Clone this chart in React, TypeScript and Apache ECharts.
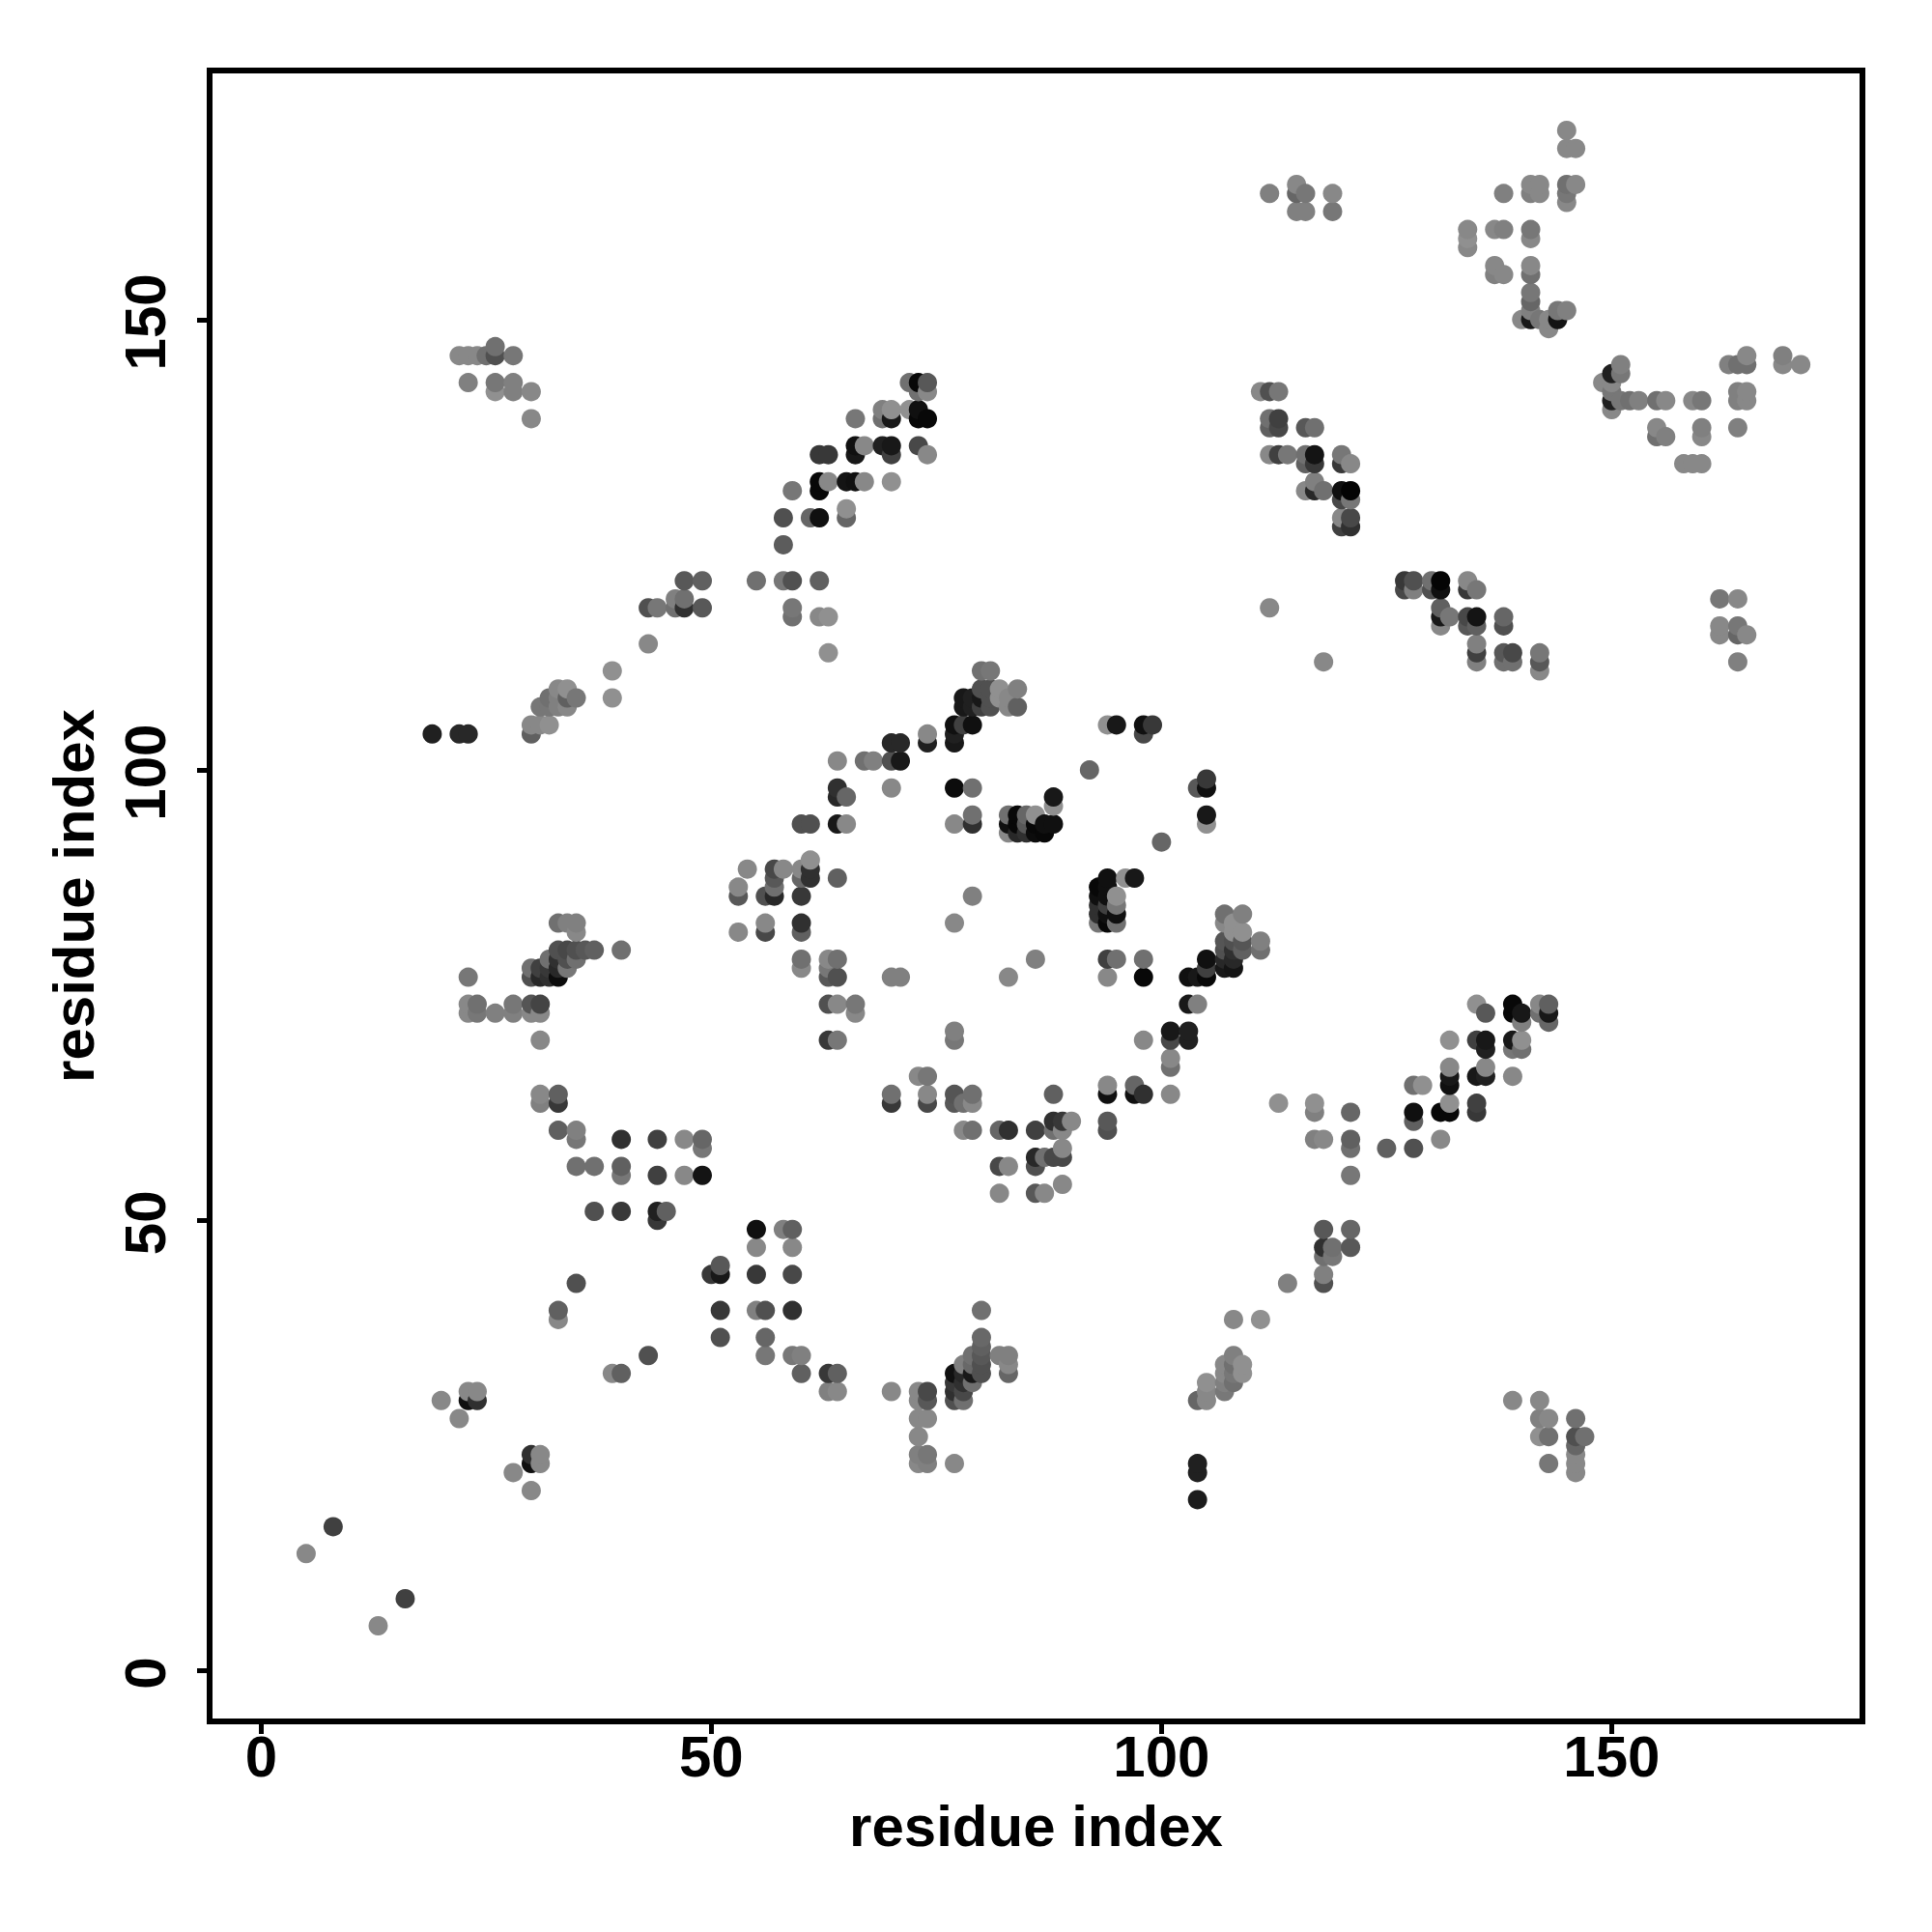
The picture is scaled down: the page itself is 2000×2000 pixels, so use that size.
import React, { useEffect, useRef } from "react";
import * as echarts from "echarts";

type P = [number, number, number]; // residue i, residue j, grey level of the contact

const tickValues = [0, 50, 100, 150];
const axisTitle = "residue index";

const lowerLeft: P[] = [
  [5,13,0x88],[8,16,0x40],[13,5,0x88],[16,8,0x40],[20,30,0x88],[22,28,0x88],[23,31,0x88],[24,31,0x88],[23,30,0x10],[24,30,0x30],
  [28,22,0x88],[30,24,0x30],[30,23,0x10],[31,24,0x88],[31,23,0x88],[30,20,0x88],[33,40,0x60],[33,39,0x88],[35,43,0x50],[43,35,0x50],
  [39,33,0x88],[40,33,0x60],[37,51,0x50],[40,51,0x38],[44,51,0x20],[44,50,0x38],[45,51,0x60],[55,49,0x10],[55,47,0x88],[50,44,0x38],
  [51,44,0x18],[51,45,0x58],[55,44,0x38],[51,40,0x38],[55,40,0x80],[56,40,0x50],[51,37,0x50],[56,37,0x66],[56,35,0x77],
  [58,49,0x80],[59,49,0x60],[59,47,0x88],[59,44,0x48],[59,40,0x30],[59,35,0x78],[60,35,0x80],[60,33,0x60],[63,33,0x38],[64,33,0x60],
  [63,31,0x80],[64,31,0x88],[70,31,0x88],[73,31,0x88],[74,31,0x48],[73,30,0x88],[74,30,0x58],[73,28,0x88],[74,28,0x88],[73,26,0x88],
  [73,24,0x80],[74,24,0x77],[73,23,0x88],[74,23,0x80],[77,23,0x88],
];

const lowerMiddle: P[] = [
  [80,40,0x70],[80,37,0x68],[80,36,0x60],[80,35,0x58],[80,34,0x50],[80,33,0x50],[79,35,0x70],[79,34,0x68],[78,34,0x80],[79,32,0x70],
  [77,33,0x10],[78,33,0x28],[77,32,0x38],[77,31,0x30],[77,30,0x50],[78,32,0x30],[78,31,0x48],[78,30,0x70],[79,33,0x18],
  [82,35,0x80],[83,35,0x80],[83,34,0x88],[83,33,0x66],[108,35,0x80],[107,34,0x88],[107,33,0x88],[109,34,0x90],[109,33,0x90],
  [108,34,0x70],[108,32,0x70],[107,31,0x78],[108,33,0x77],[107,32,0x80],[105,32,0x90],[105,31,0x88],[105,30,0x88],[104,30,0x66],
  [104,23,0x20],[104,22,0x20],[104,19,0x1c],[108,39,0x88],[111,39,0x90],
];

const lowerRight: P[] = [
  [101,71,0x18],[103,71,0x20],[101,70,0x48],[103,70,0x20],[101,68,0x88],[101,67,0x70],[101,64,0x88],[103,77,0x10],[104,77,0x18],[105,77,0x08],
  [105,78,0x40],[107,78,0x18],[108,78,0x14],[103,74,0x18],[104,74,0x80],[113,63,0x90],[117,63,0x90],[117,62,0x80],[117,59,0x80],[118,59,0x88],
  [121,62,0x66],[121,59,0x60],[121,58,0x70],[121,55,0x77],[125,58,0x60],[128,58,0x50],[131,59,0x88],[128,62,0x10],[128,61,0x60],[128,65,0x70],
  [129,65,0x90],[131,62,0x08],[132,62,0x08],[132,63,0x90],[132,65,0x10],[132,66,0x18],[132,67,0x88],[132,70,0x90],[135,62,0x38],[135,63,0x40],
  [135,66,0x18],[136,66,0x20],[136,67,0x88],[135,70,0x40],[136,70,0x18],[136,69,0x20],[136,73,0x58],[135,74,0x90],[139,66,0x88],[139,69,0x77],
  [140,69,0x70],[139,70,0x18],[140,70,0x90],[139,74,0x08],[139,73,0x08],[140,73,0x18],[140,72,0x80],[142,74,0x88],[142,73,0x70],[143,74,0x60],
  [143,73,0x18],[143,72,0x66],[118,49,0x58],[121,49,0x66],[118,47,0x30],[118,46,0x70],[119,47,0x70],[119,46,0x77],[121,47,0x58],[118,44,0x80],
  [118,43,0x50],[114,43,0x80],[139,30,0x88],[142,30,0x88],[142,28,0x80],[143,28,0x88],[146,28,0x70],[142,26,0x90],[143,26,0x70],[146,26,0x50],
  [147,26,0x70],[146,25,0x66],[146,24,0x88],[146,23,0x88],[146,22,0x88],[143,23,0x77],
];

const leftMiddle: P[] = [
  [23,77,0x77],[23,74,0x88],[24,74,0x70],[23,73,0x88],[24,73,0x77],[26,73,0x80],[28,74,0x77],[28,73,0x80],[30,74,0x55],[31,74,0x44],
  [30,73,0x88],[31,73,0x88],[31,70,0x88],[31,64,0x88],[31,63,0x80],[33,64,0x60],[33,63,0x38],[33,60,0x60],[35,60,0x80],[35,59,0x77],
  [35,56,0x70],[37,56,0x70],[40,59,0x30],[40,56,0x60],[40,55,0x77],[44,59,0x40],[44,55,0x40],[47,59,0x88],[49,59,0x66],[49,58,0x77],
  [47,55,0x88],[49,55,0x14],[33,83,0x70],[34,83,0x80],[35,83,0x80],[35,82,0x88],[33,80,0x50],[34,80,0x48],[35,80,0x50],[36,80,0x58],
  [37,80,0x60],[40,80,0x70],[32,79,0x70],[33,79,0x30],[34,79,0x50],[35,79,0x70],[30,78,0x70],[31,78,0x40],[32,78,0x38],[33,78,0x28],
  [34,78,0x77],[30,77,0x50],[31,77,0x28],[32,77,0x30],[33,77,0x0c],
];

const centreLeft: P[] = [
  [54,89,0x88],[53,87,0x88],[53,86,0x58],[53,82,0x88],[57,89,0x48],[58,89,0x88],[57,88,0x58],[57,87,0x70],[56,86,0x50],[57,86,0x28],
  [56,83,0x88],[56,82,0x48],[60,89,0x88],[60,88,0x66],[61,90,0x90],[61,89,0x30],[61,88,0x30],[60,86,0x38],[60,83,0x30],[60,82,0x60],
  [64,88,0x60],[60,79,0x70],[60,78,0x88],[63,79,0x88],[64,79,0x70],[63,78,0x77],[63,77,0x58],[64,77,0x50],[63,74,0x50],[64,74,0x88],
  [66,74,0x77],[66,73,0x88],[63,70,0x38],[64,70,0x77],[70,77,0x80],[71,77,0x80],[77,71,0x80],[77,70,0x77],[83,77,0x88],[73,66,0x88],
  [74,66,0x77],[70,64,0x70],[70,63,0x38],[74,64,0x88],[74,63,0x48],[77,64,0x55],[77,63,0x58],[78,63,0x70],[79,64,0x70],[79,63,0x88],
  [78,60,0x88],[79,60,0x70],[82,60,0x66],[83,60,0x30],[82,56,0x48],[83,56,0x88],[82,53,0x88],[79,86,0x80],[77,83,0x88],
];

const centre: P[] = [
  [80,111,0x70],[81,111,0x77],[64,101,0x88],[67,101,0x70],[68,101,0x80],[70,103,0x28],[71,103,0x28],[70,101,0x50],[71,101,0x18],[74,104,0x88],
  [74,103,0x20],[77,105,0x10],[77,104,0x20],[77,103,0x18],[78,105,0x40],[79,105,0x10],[78,108,0x18],[78,107,0x18],[79,107,0x20],[79,108,0x20],
  [80,109,0x50],[81,109,0x50],[80,107,0x40],[81,107,0x50],[81,108,0x50],[80,108,0x18],[82,109,0x90],[82,108,0x90],[83,108,0x88],[83,107,0x88],
  [84,109,0x80],[84,107,0x60],[64,98,0x30],[64,97,0x28],[65,97,0x66],[70,98,0x88],[77,98,0x0c],[79,98,0x70],[60,94,0x50],[61,94,0x50],
  [64,94,0x18],[65,94,0x88],[77,94,0x88],[79,95,0x70],[79,94,0x30],[83,95,0x70],[83,94,0x10],[83,93,0x88],[84,95,0x08],[84,94,0x08],
  [84,93,0x28],[85,95,0x66],[85,94,0x58],[85,93,0x30],[86,95,0x90],[86,94,0x08],[86,93,0x0c],[87,94,0x10],[87,93,0x08],[88,94,0x10],
  [88,96,0x90],[88,97,0x18],[92,100,0x66],[94,105,0x90],[95,105,0x18],[98,105,0x10],[99,105,0x38],[98,104,0x48],[105,99,0x38],[105,98,0x10],
  [104,98,0x58],[105,95,0x18],[105,94,0x90],[100,92,0x66],[94,88,0x10],[96,88,0x90],[97,88,0x18],[93,87,0x08],[94,87,0x10],[93,86,0x10],
  [94,86,0x10],[95,86,0x90],[93,85,0x30],[94,85,0x40],[95,85,0x77],[93,84,0x30],[94,84,0x10],[95,84,0x10],[93,83,0x77],[94,83,0x08],
  [95,83,0x70],[94,79,0x40],[95,79,0x70],[98,79,0x70],[94,77,0x88],[98,77,0x08],[86,79,0x80],[107,84,0x70],[109,84,0x80],[107,83,0x88],
  [108,83,0x90],[108,82,0x90],[109,82,0x90],[107,81,0x55],[108,81,0x50],[109,81,0x55],[111,81,0x80],[111,80,0x70],[109,80,0x60],[108,80,0x30],
  [107,80,0x50],[107,79,0x28],[108,79,0x28],[105,79,0x10],[98,70,0x88],[94,65,0x88],[94,64,0x10],[97,65,0x66],[97,64,0x10],[98,64,0x30],
  [86,60,0x40],[88,64,0x60],[88,61,0x30],[88,60,0x70],[89,61,0x38],[89,60,0x88],[90,61,0x88],[94,61,0x58],[94,60,0x50],[86,57,0x28],
  [87,57,0x70],[86,56,0x50],[88,57,0x48],[89,57,0x48],[89,58,0x88],[86,53,0x58],[87,53,0x88],[89,54,0x88],
];

const upperLeft: P[] = [
  [22,146,0x88],[23,146,0x88],[24,146,0x88],[25,146,0x70],[26,146,0x50],[26,147,0x70],[28,146,0x77],[23,143,0x80],[26,143,0x77],[26,142,0x90],
  [28,143,0x80],[28,142,0x80],[30,142,0x88],[30,139,0x88],[19,104,0x20],[22,104,0x28],[23,104,0x28],[30,104,0x60],[30,105,0x88],[31,105,0x88],
  [32,105,0x90],[31,107,0x77],[32,108,0x70],[33,109,0x88],[34,109,0x90],[32,107,0x77],[33,108,0x80],[33,107,0x80],[34,108,0x60],[34,107,0x88],
  [35,108,0x77],[39,111,0x90],[39,108,0x90],[43,114,0x88],[43,118,0x50],[44,118,0x77],[46,119,0x80],[46,118,0x70],[47,119,0x70],[47,118,0x30],
  [49,118,0x58],[47,121,0x58],[49,121,0x60],[55,121,0x70],[58,121,0x77],[59,121,0x50],[62,121,0x60],[59,118,0x77],[59,117,0x70],[62,117,0x88],
  [63,117,0x90],[63,113,0x90],[58,125,0x5c],[58,128,0x50],[61,128,0x66],[62,128,0x10],[65,129,0x90],[65,128,0x66],[59,131,0x77],[62,132,0x08],
  [62,131,0x08],[63,132,0x88],[65,132,0x14],[66,132,0x10],[67,132,0x88],[70,132,0x90],[62,135,0x38],[63,135,0x38],[66,136,0x10],[66,135,0x18],
  [67,136,0x88],[69,136,0x20],[70,136,0x18],[70,135,0x40],[73,136,0x48],[74,135,0x88],[66,139,0x77],[69,140,0x80],[69,139,0x70],[70,140,0x90],
  [70,139,0x18],[72,140,0x90],[73,140,0x10],[73,139,0x08],[74,139,0x08],[72,143,0x70],[73,143,0x08],[74,143,0x58],[73,142,0x70],[74,142,0x88],
];

const upperRight: P[] = [
  [111,142,0x88],[112,142,0x50],[113,142,0x77],[112,139,0x70],[113,139,0x40],[112,138,0x60],[113,138,0x48],[116,138,0x58],[117,138,0x70],
  [112,135,0x88],[113,135,0x40],[114,135,0x77],[116,135,0x70],[117,135,0x14],[116,134,0x60],[117,134,0x38],[120,135,0x77],[120,134,0x38],[121,134,0x88],
  [117,132,0x80],[116,131,0x88],[117,131,0x28],[118,131,0x70],[120,131,0x10],[121,131,0x04],[120,130,0x48],[121,130,0x77],[120,128,0x88],[121,128,0x48],
  [120,127,0x40],[121,127,0x30],[112,118,0x88],[118,112,0x88],[127,121,0x38],[128,121,0x50],[127,120,0x48],[128,120,0x80],[130,121,0x70],[131,121,0x04],
  [130,120,0x50],[131,120,0x10],[134,121,0x88],[135,120,0x77],[134,120,0x38],[131,118,0x60],[131,117,0x18],[132,117,0x77],[131,116,0x88],[134,117,0x48],
  [135,117,0x14],[134,116,0x58],[135,116,0x60],[138,117,0x66],[138,116,0x50],[135,114,0x80],[135,113,0x40],[135,112,0x80],[138,113,0x58],[139,113,0x48],
  [138,112,0x70],[139,112,0x70],[142,113,0x77],[142,112,0x58],[142,111,0x88],
];

const topRight: P[] = [
  [112,164,0x80],[115,165,0x88],[115,164,0x66],[116,164,0x77],[115,162,0x80],[116,162,0x80],[119,164,0x88],[119,162,0x77],[145,171,0x88],[145,169,0x88],
  [146,169,0x88],[141,165,0x88],[142,165,0x88],[141,164,0x80],[142,164,0x88],[138,164,0x80],[145,165,0x70],[146,165,0x88],[145,164,0x77],[145,163,0x88],
  [134,160,0x88],[134,159,0x90],[134,158,0x88],[137,160,0x88],[138,160,0x80],[141,160,0x77],[141,159,0x88],[137,156,0x88],[137,155,0x80],[138,155,0x88],
  [141,156,0x88],[141,155,0x70],[141,153,0x77],[141,152,0x66],[141,151,0x80],[140,150,0x88],[141,150,0x18],[142,150,0x77],[143,150,0x88],[143,149,0x88],
  [144,150,0x14],[144,151,0x77],[145,151,0x80],[151,145,0x80],[150,144,0x20],[151,144,0x77],[149,143,0x88],[150,143,0x88],[150,142,0x77],[150,141,0x20],
  [151,141,0x77],[150,140,0x88],[152,141,0x70],[153,141,0x80],[155,141,0x70],[156,141,0x88],[159,141,0x88],[160,141,0x77],[155,138,0x88],[155,137,0x70],
  [156,137,0x80],[160,138,0x80],[160,137,0x88],[158,134,0x88],[159,134,0x88],[160,134,0x88],[163,145,0x80],[164,145,0x70],[165,146,0x88],[165,145,0x70],
  [164,142,0x80],[165,142,0x88],[164,141,0x80],[165,141,0x88],[164,138,0x80],[169,146,0x80],[169,145,0x88],[171,145,0x88],[162,119,0x77],[164,119,0x88],
  [162,116,0x88],[162,115,0x88],[164,116,0x77],[164,115,0x66],[165,115,0x88],[164,112,0x80],
];

const contacts: P[] = [
  ...lowerLeft, ...lowerMiddle, ...lowerRight, ...leftMiddle, ...centreLeft,
  ...centre, ...upperLeft, ...upperRight, ...topRight,
].sort((a, b) => a[0] - b[0] || a[1] - b[1]);

const axisFont = { fontFamily: "Liberation Sans", fontWeight: "bold" as const, fontSize: 60, color: "#000" };

export default function App() {
  const ref = useRef<HTMLDivElement>(null);
  useEffect(() => {
    const chart = echarts.init(ref.current!, undefined, { renderer: "svg" });
    const base = {
      type: "value" as const,
      name: axisTitle,
      nameLocation: "middle" as const,
      nameTextStyle: axisFont,
      splitLine: { show: false },
      axisLine: { show: false, onZero: false },
      axisTick: { show: true, length: 13, lineStyle: { color: "#000", width: 5 }, customValues: tickValues },
    };
    chart.setOption({
      animation: false,
      backgroundColor: "#fff",
      grid: { left: 217, right: 72, top: 73, bottom: 218, show: true, borderColor: "#000", borderWidth: 6, backgroundColor: "transparent" },
      xAxis: { ...base, min: -5.72, max: 177.85, nameGap: 78, axisLabel: { ...axisFont, margin: 6, customValues: tickValues } },
      yAxis: { ...base, min: -5.62, max: 177.65, nameGap: 111, axisLabel: { ...axisFont, margin: 37, rotate: 90, padding: [0, 5, 0, 0], customValues: tickValues } },
      series: [{
        type: "scatter",
        symbol: "circle",
        symbolSize: 20,
        silent: true,
        large: false,
        data: contacts.map(([x, y, g]) => ({
          value: [x, y],
          itemStyle: { color: `rgb(${g},${g},${g})`, opacity: 1 },
        })),
      }],
    });
    return () => chart.dispose();
  }, []);
  return <div ref={ref} style={{ position: "absolute", left: 0, top: 0, width: 2000, height: 2000 }} />;
}
